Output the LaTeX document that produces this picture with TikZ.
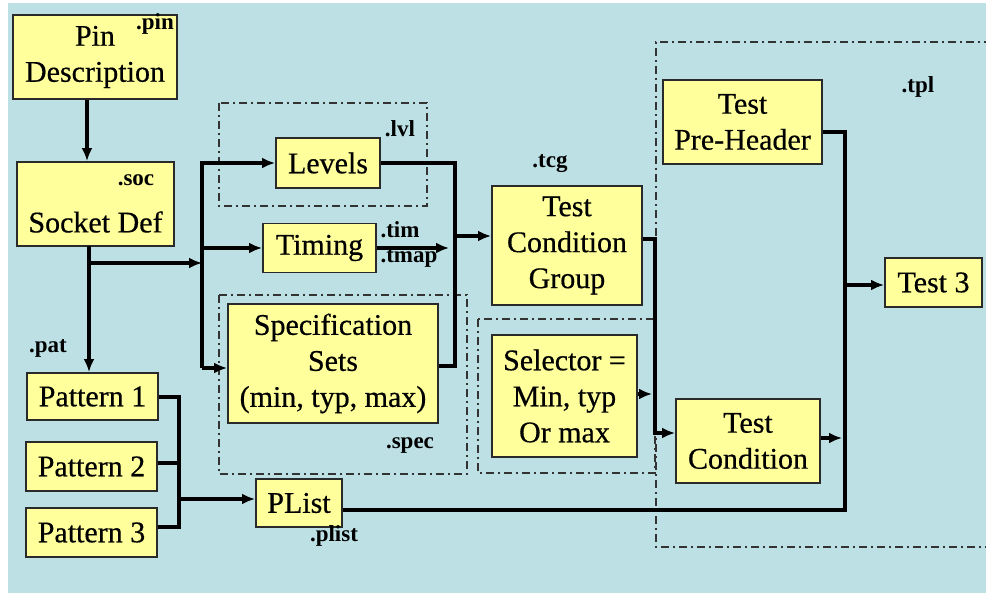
\documentclass[tikz,border=0pt]{standalone}
\usepackage{fontspec}
\setmainfont{Liberation Serif}
\newfontfamily\boxfont{Liberation Serif}[FakeBold=0.5]
\usetikzlibrary{arrows.meta,calc}
\definecolor{bg}{HTML}{BCE0E4}
\definecolor{boxfill}{HTML}{FFFF9C}
\definecolor{edge}{HTML}{2A2A2A}
\begin{document}
\begin{tikzpicture}[x=1pt,y=-1pt,
  box/.style={draw=edge, line width=1.8pt, fill=boxfill, inner sep=0pt, align=center,
              font=\boxfont\fontsize{30}{36}\selectfont},
  wh/.style 2 args={minimum width=#1pt, minimum height=#2pt},
  txt/.style={inner sep=0pt, align=center, font=\boxfont\fontsize{30}{36}\selectfont},
  tag/.style={inner sep=0pt, font=\fontsize{23}{23}\selectfont\bfseries},
  wire/.style={line width=3.2pt, black, line join=miter},
  arr/.style={wire, -{Latex[length=13pt,width=11pt]}},
  group/.style={draw=black!80, line width=1.5pt, dash pattern=on 8pt off 4pt on 2pt off 4pt},
]
\useasboundingbox (0,0) rectangle (986,593);
\fill[white] (0,0) rectangle (986,593);
\fill[bg] (8,3) rectangle (986,593);

% dash-dot file groups
\draw[group] (219,103) rectangle (427,206);
\draw[group] (219,295) rectangle (467,474);
\draw[group] (478,319) rectangle (655,473);
\draw[group] (992,42) -- (656,42) -- (656,547) -- (992,547);

% boxes
\node[box, wh={164}{84}] (pin) at (95,57) {Pin\\Description};
\node[box, wh={157}{84}] (soc) at (95.5,204) {};
\node[txt] at ($(soc.center)+(0,18)$) {Socket Def};
\node[box, wh={104}{50}] (lev) at (328,163) {Levels};
\node[box, wh={113}{49}] (tim) at (319.5,248) {Timing};
\node[box, wh={210}{119}] (spec) at (333,363.5) {Specification\\Sets\\(min, typ, max)};
\node[box, wh={150}{119}] (tcg) at (567,245.5) {Test\\Condition\\Group};
\node[box, wh={145}{122}] (sel) at (564.5,396) {Selector =\\Min, typ\\Or max};
\node[box, wh={144}{84}] (tc) at (748,441) {Test\\Condition};
\node[box, wh={159}{84}] (pre) at (742.5,122) {Test\\Pre-Header};
\node[box, wh={97}{49}] (t3) at (933.5,282.5) {Test 3};
\node[box, wh={131}{47}] (p1) at (92.5,396.5) {Pattern 1};
\node[box, wh={131}{49}] (p2) at (91.5,466.5) {Pattern 2};
\node[box, wh={131}{49}] (p3) at (91.5,532.5) {Pattern 3};
\node[box, wh={86}{48}] (plist) at (299,503) {PList};

% file extension tags
\node[tag] at (155,24) {.pin};
\node[tag] at (136,180) {.soc};
\node[tag] at (400,129) {.lvl};
\node[tag] at (400,230) {.tim};
\node[tag] at (409,258) {.tmap};
\node[tag] at (550,164) {.tcg};
\node[tag] at (918,87) {.tpl};
\node[tag] at (48,348) {.pat};
\node[tag] at (410,446) {.spec};
\node[tag] at (334,536) {.plist};

% junction points
\coordinate (sdrop) at (89,246);
\coordinate (split) at (89,263);
\coordinate (lbus) at (202,263);
\coordinate (lbusB) at (202,368);
\coordinate (ltim) at (202,248);
\coordinate (rbusB) at (455,366);
\coordinate (rbusT) at (455,236);
\coordinate (rtim) at (449,248);
\coordinate (cbusT) at (655,239);
\coordinate (cbusB) at (655,433);
\coordinate (selin) at (652,394);
\coordinate (tcout) at (842,438);
\coordinate (tbusT) at (845,132);
\coordinate (tbusM) at (845,285);
\coordinate (tbusB) at (845,510);
\coordinate (pbT) at (179,397);
\coordinate (pb2) at (179,463);
\coordinate (pbM) at (179,499);
\coordinate (pbB) at (179,527);

% connectors
\draw[arr] ([xshift=-8pt]pin.south) -- ([xshift=-8pt]pin.south |- soc.north);
\draw[arr] (sdrop) -- (sdrop |- p1.north);
\draw[arr] (split) -- (lbus);
\draw[arr] (lbusB) |- (lev.west);
\draw[arr] (lbusB) -- (lbusB -| spec.west);
\draw[arr] (ltim) -- (ltim -| tim.west);
\draw[wire] (lev.east) -| (rbusB) -- (rbusB -| spec.east);
\draw[arr] (rtim -| tim.east) -- (rtim);
\draw[arr] (rbusT) -- (rbusT -| tcg.west);
\draw[arr] (cbusT -| tcg.east) -- (cbusT) |- (cbusB -| tc.west);
\draw[arr] (selin -| sel.east) -- (selin);
\draw[arr] (tcout -| tc.east) -- (tcout);
\draw[wire] (tbusT -| pre.east) -- (tbusT) -- (tbusB) -- (tbusB -| plist.east);
\draw[arr] (tbusM) -- (tbusM -| t3.west);
\draw[wire] (pbT -| p1.east) -- (pbT) -- (pbB) -- (pbB -| p3.east);
\draw[wire] (pb2 -| p2.east) -- (pb2);
\draw[arr] (pbM) -- (pbM -| plist.west);
\end{tikzpicture}
\end{document}
